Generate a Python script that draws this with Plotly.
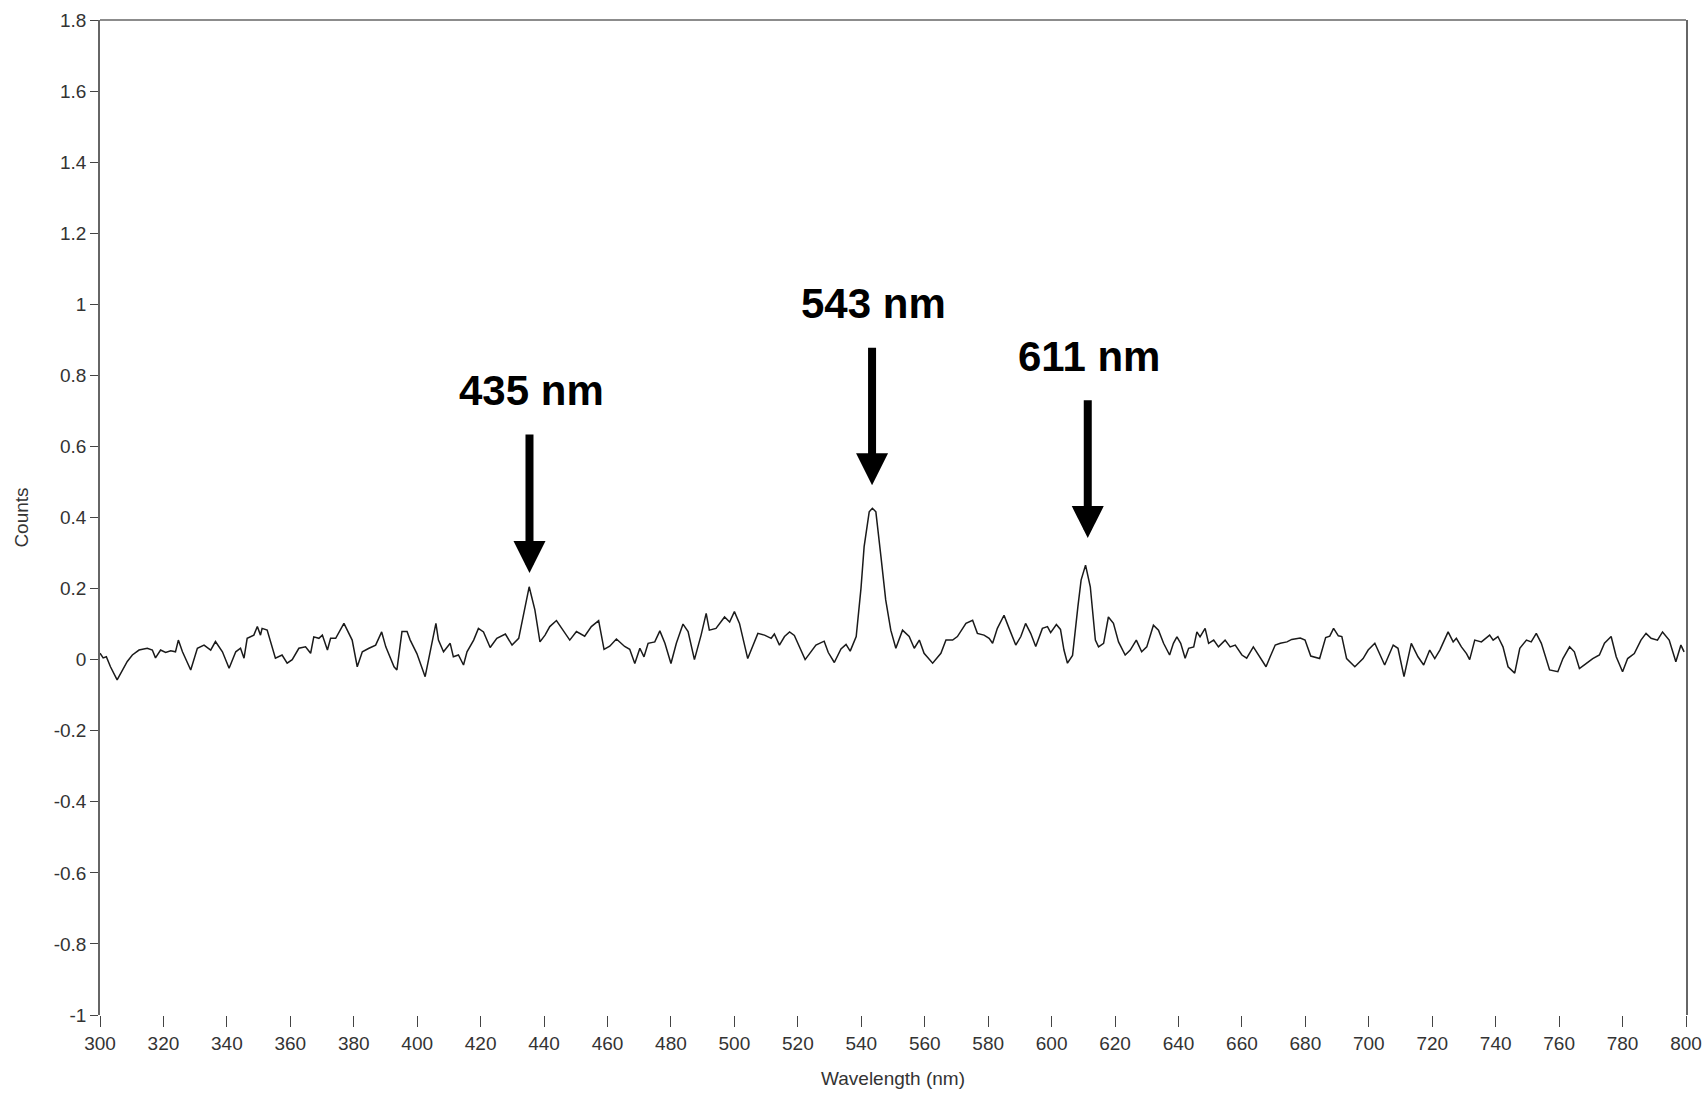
import plotly.graph_objects as go

# ---- data ----
wavelength_nm = [
    300.0, 301.0, 302.0, 303.3, 305.4, 307.0, 308.6, 310.2, 312.3, 314.9, 316.5, 317.5, 319.1, 320.7,
    322.3, 323.8, 324.7, 326.0, 328.6, 330.7, 332.8, 334.9, 336.4, 338.6, 340.7, 342.8, 344.3, 345.4,
    346.4, 348.5, 349.6, 350.6, 351.1, 352.7, 355.3, 357.4, 359.0, 360.6, 362.7, 364.8, 366.4, 367.4,
    369.0, 370.1, 371.7, 372.7, 374.3, 376.9, 379.5, 381.1, 382.7, 384.8, 386.9, 388.8, 390.1, 392.7,
    393.6, 395.2, 396.8, 397.8, 399.9, 402.5, 404.1, 405.9, 406.7, 408.3, 410.4, 411.4, 413.0, 414.6,
    415.7, 417.8, 419.3, 420.9, 423.0, 425.1, 427.8, 429.9, 432.0, 433.6, 435.3, 437.1, 438.7, 440.3,
    441.8, 443.9, 445.5, 448.1, 450.2, 452.8, 454.9, 457.2, 458.9, 460.7, 462.8, 465.4, 467.0, 468.6,
    470.2, 471.5, 472.8, 474.9, 476.5, 478.1, 480.0, 481.7, 483.8, 485.4, 487.4, 489.5, 491.1, 492.1,
    494.2, 496.9, 498.5, 500.0, 501.6, 504.2, 507.4, 509.5, 511.6, 512.6, 514.2, 515.8, 517.4, 518.9,
    522.3, 525.7, 528.3, 529.6, 531.5, 533.6, 535.2, 536.5, 538.4, 539.9, 540.9, 542.5, 543.5, 544.6,
    546.2, 547.7, 549.3, 550.9, 553.0, 555.1, 556.7, 558.3, 559.8, 562.5, 565.1, 566.7, 568.8, 570.3,
    573.0, 575.1, 576.6, 578.7, 580.3, 581.4, 582.9, 585.0, 586.6, 588.7, 590.3, 591.8, 593.4, 595.0,
    597.1, 598.7, 599.7, 601.5, 602.8, 603.9, 605.0, 606.6, 608.3, 609.3, 610.7, 612.2, 613.8, 614.8,
    616.4, 617.9, 619.5, 621.1, 623.2, 624.8, 626.7, 628.4, 630.0, 632.1, 633.7, 635.3, 637.2, 638.4,
    639.5, 640.7, 642.1, 643.2, 644.8, 645.8, 646.8, 648.4, 649.5, 651.1, 652.6, 654.7, 656.3, 657.9,
    660.0, 661.5, 663.6, 665.2, 667.6, 668.9, 670.5, 672.1, 674.2, 675.7, 678.4, 679.9, 681.7, 684.5,
    686.4, 687.7, 688.9, 690.4, 691.5, 693.0, 695.6, 698.2, 699.8, 701.9, 703.5, 705.0, 707.7, 709.2,
    711.1, 713.4, 715.5, 717.3, 719.2, 720.8, 722.4, 725.0, 726.6, 727.6, 729.2, 730.8, 731.8, 733.4,
    735.5, 738.1, 739.2, 740.7, 742.3, 743.9, 746.0, 747.6, 749.7, 751.2, 752.8, 754.4, 757.0, 759.6,
    761.2, 763.3, 764.8, 766.4, 768.5, 770.6, 772.7, 774.3, 776.4, 778.0, 780.0, 781.6, 783.7, 785.8,
    787.4, 789.0, 791.0, 792.6, 794.7, 796.8, 798.4, 799.4,
]
counts = [
    0.018, 0.005, 0.008, -0.020, -0.057, -0.029, -0.005, 0.013, 0.027, 0.032, 0.027, 0.005, 0.027, 0.020,
    0.025, 0.022, 0.055, 0.022, -0.029, 0.032, 0.041, 0.027, 0.051, 0.022, -0.024, 0.022, 0.032, 0.004,
    0.060, 0.069, 0.093, 0.069, 0.088, 0.083, 0.004, 0.013, -0.010, 0.000, 0.032, 0.036, 0.018, 0.064,
    0.060, 0.069, 0.027, 0.060, 0.060, 0.102, 0.055, -0.020, 0.022, 0.032, 0.041, 0.078, 0.036, -0.020,
    -0.029, 0.079, 0.079, 0.055, 0.017, -0.048, 0.027, 0.102, 0.055, 0.022, 0.046, 0.008, 0.013, -0.015,
    0.022, 0.055, 0.088, 0.078, 0.034, 0.060, 0.072, 0.041, 0.060, 0.130, 0.205, 0.140, 0.050, 0.069,
    0.093, 0.110, 0.088, 0.055, 0.079, 0.066, 0.093, 0.110, 0.029, 0.038, 0.058, 0.037, 0.029, -0.011,
    0.032, 0.008, 0.046, 0.050, 0.081, 0.046, -0.011, 0.046, 0.100, 0.079, 0.000, 0.069, 0.130, 0.083,
    0.088, 0.120, 0.106, 0.135, 0.102, 0.003, 0.074, 0.069, 0.060, 0.072, 0.041, 0.065, 0.078, 0.068,
    0.000, 0.041, 0.052, 0.020, -0.008, 0.030, 0.043, 0.024, 0.065, 0.200, 0.318, 0.416, 0.426, 0.416,
    0.290, 0.168, 0.083, 0.032, 0.083, 0.065, 0.032, 0.055, 0.018, -0.010, 0.018, 0.055, 0.055, 0.065,
    0.102, 0.111, 0.074, 0.069, 0.060, 0.046, 0.088, 0.125, 0.088, 0.041, 0.065, 0.102, 0.074, 0.037,
    0.088, 0.093, 0.076, 0.099, 0.085, 0.027, -0.010, 0.012, 0.150, 0.224, 0.266, 0.205, 0.055, 0.036,
    0.046, 0.120, 0.102, 0.050, 0.013, 0.027, 0.055, 0.022, 0.036, 0.097, 0.083, 0.046, 0.013, 0.046,
    0.064, 0.046, 0.004, 0.032, 0.036, 0.078, 0.064, 0.088, 0.046, 0.055, 0.036, 0.055, 0.036, 0.041,
    0.013, 0.004, 0.036, 0.013, -0.020, 0.008, 0.041, 0.046, 0.050, 0.057, 0.061, 0.055, 0.010, 0.003,
    0.062, 0.066, 0.088, 0.067, 0.065, 0.003, -0.020, 0.003, 0.027, 0.046, 0.013, -0.015, 0.041, 0.032,
    -0.048, 0.046, 0.008, -0.015, 0.027, 0.003, 0.027, 0.078, 0.050, 0.060, 0.036, 0.017, 0.000, 0.055,
    0.050, 0.069, 0.055, 0.065, 0.036, -0.020, -0.038, 0.032, 0.055, 0.050, 0.074, 0.046, -0.029, -0.034,
    0.003, 0.036, 0.022, -0.025, -0.011, 0.003, 0.013, 0.046, 0.065, 0.008, -0.034, 0.003, 0.017, 0.055,
    0.074, 0.060, 0.055, 0.078, 0.055, -0.006, 0.041, 0.022,
]

peak_wavelengths = [435, 543, 611]
peak_labels = ["435 nm", "543 nm", "611 nm"]

y_tick_values = [1.8, 1.6, 1.4, 1.2, 1.0, 0.8, 0.6, 0.4, 0.2, 0.0, -0.2, -0.4, -0.6, -0.8, -1.0]
y_tick_labels = ["1.8", "1.6", "1.4", "1.2", "1", "0.8", "0.6", "0.4", "0.2", "0",
                 "-0.2", "-0.4", "-0.6", "-0.8", "-1"]
x_tick_values = list(range(300, 801, 20))
x_tick_labels = [str(v) for v in x_tick_values]

# ---- figure ----
fig = go.Figure()
fig.add_trace(go.Scatter(
    x=wavelength_nm, y=counts, mode="lines",
    line=dict(color="#1a1a1a", width=1.5),
    showlegend=False, hoverinfo="x+y",
))

tick_font = dict(family="Liberation Sans, Arial, sans-serif", size=19, color="#333333")

fig.update_layout(
    width=1705, height=1095,
    margin=dict(l=100, r=19, t=20, b=80),
    paper_bgcolor="white", plot_bgcolor="white",
    xaxis=dict(
        range=[300, 800], tickvals=x_tick_values, ticktext=x_tick_labels,
        showgrid=False, zeroline=False, showline=False, automargin=False,
        ticks="outside", ticklen=11, tickwidth=1.2, tickcolor="#444444",
        tickfont=tick_font, ticklabeloverflow="allow",
        title=dict(text="Wavelength (nm)", font=dict(family="Liberation Sans, Arial, sans-serif",
                                                   size=19, color="#333333"), standoff=18),
    ),
    yaxis=dict(
        range=[-1, 1.8], tickvals=y_tick_values, ticktext=y_tick_labels,
        showgrid=False, zeroline=False, automargin=False,
        showline=True, mirror=True, linecolor="#666666", linewidth=1.5,
        ticks="outside", ticklen=8, tickwidth=1.2, tickcolor="#444444",
        tickfont=tick_font,
        title=dict(text="Counts", font=dict(family="Liberation Sans, Arial, sans-serif",
                                          size=19, color="#333333"), standoff=20),
    ),
    shapes=[dict(type="line", xref="paper", yref="paper", x0=0, x1=1, y0=1, y1=1,
                 line=dict(color="#666666", width=1.5))],
)

# arrows and labels for the marked peaks
arrow_tip = [0.244, 0.491, 0.342]
arrow_tail = [0.638, 0.882, 0.734]
label_y = [0.756, 1.003, 0.852]
label_dx = [1.0, 0.8, 0.7]
for pk, lab, tip, tail, ly, dx in zip(peak_wavelengths, peak_labels, arrow_tip, arrow_tail, label_y, label_dx):
    fig.add_annotation(
        x=pk + 0.4, y=tip, ax=pk + 0.4, ay=tail, xref="x", yref="y", axref="x", ayref="y",
        text="", showarrow=True, arrowhead=2, arrowsize=0.8, arrowwidth=8,
        arrowcolor="#000000", standoff=0,
    )
    fig.add_annotation(
        x=pk + dx, y=ly, xref="x", yref="y", text="<b>%s</b>" % lab, showarrow=False,
        font=dict(family="Liberation Sans, Arial, sans-serif", size=42, color="#000000"),
        xanchor="center", yanchor="middle",
    )

fig.write_html("out.html")
